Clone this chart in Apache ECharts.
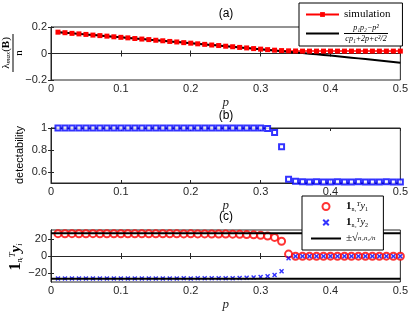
<!DOCTYPE html>
<html>
<head>
<meta charset="utf-8">
<script src="https://cdn.jsdelivr.net/npm/echarts@6/dist/echarts.min.js"></script>
<style>
    html, body { margin: 0; padding: 0; background: #fff; }
    #chart { width: 411px; height: 312px; }
</style>
</head>
<body>
<div id="chart"></div>
<script>
    const pValues = [
        0.01, 0.02, 0.03, 0.04, 0.05, 0.06, 0.07, 0.08, 0.09, 0.10,
        0.11, 0.12, 0.13, 0.14, 0.15, 0.16, 0.17, 0.18, 0.19, 0.20,
        0.21, 0.22, 0.23, 0.24, 0.25, 0.26, 0.27, 0.28, 0.29, 0.30,
        0.31, 0.32, 0.33, 0.34, 0.35, 0.36, 0.37, 0.38, 0.39, 0.40,
        0.41, 0.42, 0.43, 0.44, 0.45, 0.46, 0.47, 0.48, 0.49, 0.50
    ]
    // (a) largest eigenvalue / n
    const simulation = [
        0.161, 0.157, 0.152, 0.148, 0.144, 0.139, 0.135, 0.131, 0.126, 0.122,
        0.118, 0.113, 0.109, 0.105, 0.100, 0.096, 0.091, 0.087, 0.082, 0.078,
        0.073, 0.069, 0.064, 0.060, 0.055, 0.051, 0.046, 0.042, 0.037, 0.033,
        0.029, 0.025, 0.022, 0.020, 0.019, 0.018, 0.018, 0.018, 0.018, 0.018,
        0.018, 0.018, 0.018, 0.018, 0.018, 0.018, 0.018, 0.018, 0.018, 0.018
    ]
    const theory = [
        0.1608, 0.1566, 0.1523, 0.1481, 0.1438, 0.1395, 0.1352, 0.1309, 0.1266, 0.1222,
        0.1178, 0.1134, 0.1090, 0.1046, 0.1002, 0.0958, 0.0913, 0.0868, 0.0823, 0.0778,
        0.0733, 0.0687, 0.0642, 0.0596, 0.0550, 0.0504, 0.0458, 0.0411, 0.0365, 0.0318,
        0.0271, 0.0224, 0.0177, 0.0130, 0.0082, 0.0034, -0.0014, -0.0062, -0.0110, -0.0158,
        -0.0210, -0.0262, -0.0315, -0.0368, -0.0421, -0.0475, -0.0529, -0.0584, -0.0640, -0.0696
    ]
    // (b)
    const detectability = [
        1, 1, 1, 1, 1, 1, 1, 1, 1, 1,
        1, 1, 1, 1, 1, 1, 1, 1, 1, 1,
        1, 1, 1, 1, 1, 1, 1, 1, 1, 1,
        0.995, 0.96, 0.83, 0.534, 0.515, 0.511, 0.510, 0.511, 0.510, 0.510,
        0.511, 0.510, 0.510, 0.511, 0.510, 0.510, 0.510, 0.511, 0.510, 0.510
    ]
    // (c)
    const sumY1 = [
        26.2, 26.1, 26.2, 26.1, 26.1, 26.2, 26.1, 26.1, 26.0, 26.1,
        26.1, 26.0, 26.1, 26.0, 26.0, 26.1, 26.0, 26.0, 25.9, 26.0,
        25.9, 25.9, 25.8, 25.8, 25.7, 25.6, 25.4, 25.1, 24.8, 24.3,
        23.4, 21.8, 17.3, 2.2, -0.3, -0.3, -0.2, -0.3, -0.3, -0.2,
        -0.3, -0.3, -0.3, -0.2, -0.3, -0.3, -0.3, -0.2, -0.3, -0.3
    ]
    const sumY2 = [
        -26.5, -26.4, -26.5, -26.4, -26.4, -26.5, -26.4, -26.4, -26.3, -26.4,
        -26.4, -26.3, -26.4, -26.3, -26.3, -26.4, -26.3, -26.3, -26.2, -26.3,
        -26.2, -26.2, -26.1, -26.1, -26.0, -26.0, -25.9, -25.6, -25.2, -24.7,
        -23.8, -22.2, -18.0, -2.6, -0.4, -0.4, -0.3, -0.4, -0.4, -0.3,
        -0.4, -0.4, -0.4, -0.3, -0.4, -0.4, -0.4, -0.3, -0.4, -0.4
    ]
    const boundP = [0, 0.5]
    const boundValue = 26.6

    const xTicks = [0, 0.1, 0.2, 0.3, 0.4, 0.5]
    const yTicksA = [-0.2, 0, 0.2]
    const yTicksB = [0.6, 0.8, 1]
    const yTicksC = [-20, 0, 20]

    const axisColor = '#262626'
    const sans = 'Liberation Sans, Arial, sans-serif'
    const serif = 'Liberation Serif, DejaVu Serif, serif'
    const xCross = 'path://M0,2L2,0L5,3L8,0L10,2L7,5L10,8L8,10L5,7L2,10L0,8L3,5Z'

    const zip = (xs, ys) => xs.map((x, i) => [x, ys[i]])
    const minus = v => String(v).replace('-', '\u2212')

    const panels = [
        { top: 27, height: 53, min: -0.2, max: 0.2, ticks: yTicksA },
        { top: 128, height: 55, min: 0.5, max: 1, ticks: yTicksB },
        { top: 230, height: 54, min: -30.5, max: 30.5, ticks: yTicksC }
    ]

    const grid = []
    const xAxis = []
    const yAxis = []
    panels.forEach((pn, i) => {
        grid.push({
            left: 51, right: 9, top: pn.top, height: pn.height,
            show: true, borderColor: axisColor, borderWidth: 1, backgroundColor: '#fff'
        })
        // bottom axis with labels
        xAxis.push({
            gridIndex: i, type: 'value', min: 0, max: 0.5, position: 'bottom',
            name: 'p', nameLocation: 'middle', nameGap: 16,
            nameTextStyle: { fontFamily: serif, fontStyle: 'italic', fontSize: 13, color: axisColor },
            axisLine: { lineStyle: { color: axisColor } },
            axisTick: { inside: true, length: 3, customValues: xTicks, lineStyle: { color: axisColor } },
            axisLabel: { customValues: xTicks, margin: 3, fontFamily: sans, fontSize: 11, color: axisColor },
            splitLine: { show: false }
        })
        // top axis, ticks only
        xAxis.push({
            gridIndex: i, type: 'value', min: 0, max: 0.5, position: 'top',
            axisLine: { lineStyle: { color: axisColor } },
            axisTick: { inside: true, length: 3, customValues: xTicks, lineStyle: { color: axisColor } },
            axisLabel: { show: false },
            splitLine: { show: false }
        })
        yAxis.push({
            gridIndex: i, type: 'value', min: pn.min, max: pn.max, position: 'left',
            axisLine: { lineStyle: { color: axisColor } },
            axisTick: { inside: true, length: 3, customValues: pn.ticks, lineStyle: { color: axisColor } },
            axisLabel: {
                customValues: pn.ticks, margin: 4, fontFamily: sans, fontSize: 11, color: axisColor,
                formatter: minus
            },
            splitLine: { show: false }
        })
        yAxis.push({
            gridIndex: i, type: 'value', min: pn.min, max: pn.max, position: 'right',
            axisLine: { lineStyle: { color: axisColor } },
            axisTick: { inside: true, length: 3, customValues: pn.ticks, lineStyle: { color: axisColor } },
            axisLabel: { show: false },
            splitLine: { show: false }
        })
    })

    const mathRich = {
        t: { fontFamily: serif, fontSize: 11, color: '#000' },
        f: { fontFamily: serif, fontStyle: 'italic', fontSize: 8, color: '#000', align: 'center', lineHeight: 9 },
        bar: { width: 44, height: 1, lineHeight: 2, backgroundColor: '#000', align: 'center' },
        b: { fontFamily: serif, fontWeight: 'bold', fontSize: 11, color: '#000' },
        sub: { fontFamily: serif, fontSize: 6, color: '#000', verticalAlign: 'bottom' },
        sup: { fontFamily: serif, fontStyle: 'italic', fontSize: 7, color: '#000', verticalAlign: 'top' },
        i: { fontFamily: serif, fontStyle: 'italic', fontSize: 10, color: '#000' },
        pm: { fontFamily: serif, fontSize: 11, color: '#000' },
        r: { fontFamily: serif, fontStyle: 'italic', fontSize: 7, color: '#000' }
    }
    const legendNames = {
        simulation: '{t|simulation}',
        theory: '{f|p\u2081p\u2082\u2212p\u00b2}\n{bar| }\n{f|cp\u2081+2p+c\u00b2/2}',
        y1: '{b|1}{sub|n\u2081}{sup|T}{i|y}{sub|1}',
        y2: '{b|1}{sub|n\u2082}{sup|T}{i|y}{sub|2}',
        bound: '{pm|\u00b1\u221a}{r|n\u2081n\u2082/n}'
    }
    const lineOnly = name => ({ name, itemStyle: { opacity: 0 } })

    const option = {
        animation: false,
        backgroundColor: '#fff',
        grid,
        xAxis,
        yAxis,
        legend: [
            {
                data: ['simulation', lineOnly('theory')],
                orient: 'vertical', left: 299, top: 3,
                itemWidth: 33, itemHeight: 6, itemGap: 4,
                padding: [6, 12, 3, 6],
                backgroundColor: '#fff', borderColor: '#000', borderWidth: 1,
                formatter: name => legendNames[name],
                textStyle: { rich: mathRich }
            },
            {
                data: ['y1', 'y2', lineOnly('bound')],
                orient: 'vertical', left: 302, top: 196,
                itemWidth: 30, itemHeight: 7, itemGap: 5,
                padding: [5, 8, 6, 8],
                backgroundColor: '#fff', borderColor: '#000', borderWidth: 1,
                formatter: name => legendNames[name],
                textStyle: { rich: mathRich }
            }
        ],
        graphic: [
            { type: 'text', x: 226, y: 14, style: { text: '(a)', font: '12px ' + sans, fill: '#000', align: 'center', verticalAlign: 'middle' } },
            { type: 'text', x: 226, y: 116, style: { text: '(b)', font: '12px ' + sans, fill: '#000', align: 'center', verticalAlign: 'middle' } },
            { type: 'text', x: 226, y: 217, style: { text: '(c)', font: '12px ' + sans, fill: '#000', align: 'center', verticalAlign: 'middle' } },
            {
                type: 'text', x: 13, y: 53, rotation: Math.PI / 2,
                style: {
                    text: '{l|\u03bb}{s|max}{l|(}{B|B}{l|)}\n{bar| }\n{l|n}',
                    align: 'center', verticalAlign: 'middle',
                    rich: {
                        l: { fontFamily: serif, fontSize: 11, color: '#000' },
                        s: { fontFamily: serif, fontStyle: 'italic', fontSize: 7, color: '#000', verticalAlign: 'bottom' },
                        B: { fontFamily: serif, fontWeight: 'bold', fontSize: 11, color: '#000' },
                        bar: { width: 38, height: 1, lineHeight: 2, backgroundColor: '#000', align: 'center' }
                    }
                }
            },
            {
                type: 'text', x: 20, y: 155, rotation: Math.PI / 2,
                style: { text: 'detectability', font: '11px ' + sans, fill: '#000', align: 'center', verticalAlign: 'middle' }
            },
            {
                type: 'text', x: 16, y: 257, rotation: Math.PI / 2,
                style: {
                    text: '{b|1}{s|n\u1d62}{t|T}{y|y}{s|i}',
                    align: 'center', verticalAlign: 'middle',
                    rich: {
                        b: { fontFamily: serif, fontWeight: 'bold', fontSize: 16, color: '#000' },
                        s: { fontFamily: serif, fontStyle: 'italic', fontSize: 8, color: '#000', verticalAlign: 'bottom' },
                        t: { fontFamily: serif, fontStyle: 'italic', fontSize: 9, color: '#000', verticalAlign: 'top' },
                        y: { fontFamily: serif, fontWeight: 'bold', fontStyle: 'italic', fontSize: 15, color: '#000' }
                    }
                }
            }
        ],
        series: [
            {
                name: 'simulation', type: 'line', xAxisIndex: 0, yAxisIndex: 0,
                data: zip(pValues, simulation),
                symbol: 'rect', symbolSize: 5,
                itemStyle: { color: '#ff0000' },
                lineStyle: { color: '#ff0000', width: 1.5 }
            },
            {
                name: 'theory', type: 'line', xAxisIndex: 0, yAxisIndex: 0,
                data: zip(pValues, theory),
                symbol: 'none',
                itemStyle: { color: '#000' },
                lineStyle: { color: '#000', width: 2 }
            },
            {
                name: 'detectability', type: 'scatter', xAxisIndex: 2, yAxisIndex: 2,
                data: zip(pValues, detectability),
                symbol: 'emptyRect', symbolSize: 5,
                itemStyle: { color: '#0000ff', borderWidth: 2 }
            },
            {
                name: 'y1', type: 'scatter', xAxisIndex: 4, yAxisIndex: 4,
                data: zip(pValues, sumY1),
                symbol: 'emptyCircle', symbolSize: 7,
                itemStyle: { color: '#ff0000', borderWidth: 1.6 }
            },
            {
                name: 'y2', type: 'scatter', xAxisIndex: 4, yAxisIndex: 4,
                data: zip(pValues, sumY2),
                symbol: xCross, symbolSize: 5,
                itemStyle: { color: '#0000ff' }
            },
            {
                name: 'bound', type: 'line', xAxisIndex: 4, yAxisIndex: 4,
                data: zip(boundP, boundP.map(() => boundValue)),
                symbol: 'none',
                itemStyle: { color: '#000' },
                lineStyle: { color: '#000', width: 2 }
            },
            {
                name: 'bound', type: 'line', xAxisIndex: 4, yAxisIndex: 4,
                data: zip(boundP, boundP.map(() => -boundValue)),
                symbol: 'none',
                itemStyle: { color: '#000' },
                lineStyle: { color: '#000', width: 2 }
            }
        ]
    }

    const chart = echarts.init(document.getElementById('chart'))
    chart.setOption(option)
</script>
</body>
</html>
